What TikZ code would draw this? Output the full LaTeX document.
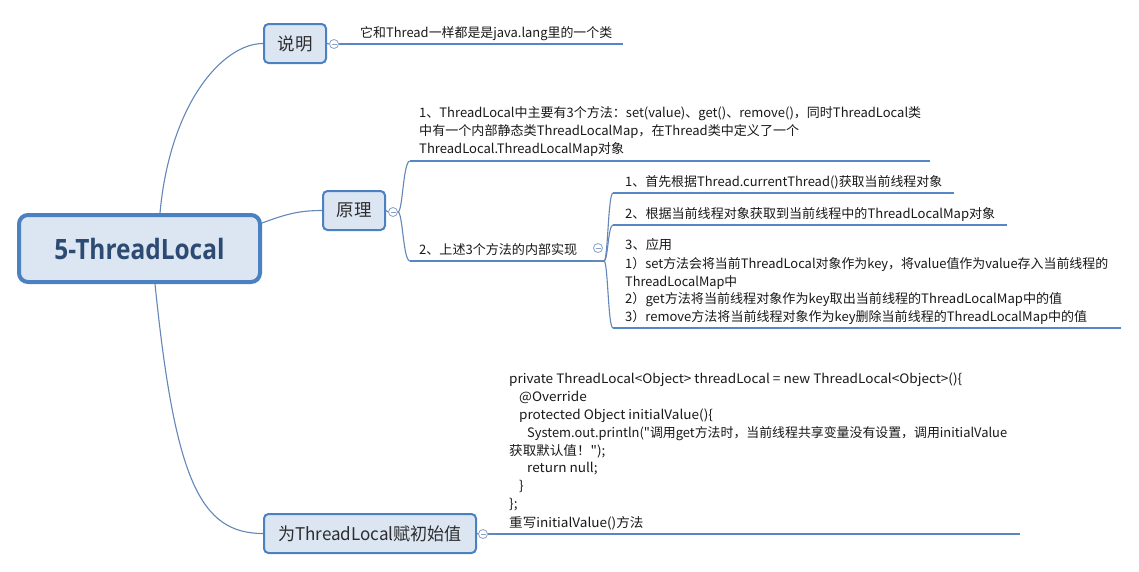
\documentclass[tikz,border=0pt]{standalone}
\usepackage{fontspec}
\setmainfont{Noto Sans CJK SC}
\newfontfamily\rootfont{Open Sans}
\newfontfamily\qfont{Noto Sans CJK SC}
\usepackage{graphicx}
\definecolor{boxc}{RGB}{75,128,193}
\definecolor{boxfill}{RGB}{220,230,242}
\definecolor{roottxt}{RGB}{44,74,114}
\definecolor{boxtxt}{RGB}{45,45,45}
\definecolor{connc}{RGB}{100,135,185}
\definecolor{ulinec}{RGB}{85,135,196}
\definecolor{minusc}{RGB}{135,160,200}
\definecolor{leaftxt}{RGB}{25,25,25}
\newcommand\leaffont{\fontsize{13}{18}\selectfont}
\newcommand\fw[2]{\resizebox{#1pt}{\height}{#2}}
\newcommand\dq{{\qfont\symbol{34}}}
\newlength\codeL
\newcommand\cf[1]{\scalebox{\codesc}[1]{#1}}
\begin{document}
\settowidth\codeL{\leaffont private ThreadLocal<Object> threadLocal = new ThreadLocal<Object>()\{}%
\pgfmathsetmacro\codesc{453/\codeL}%
\begin{tikzpicture}[x=1pt,y=-1pt,
  topic/.style={draw=boxc, fill=boxfill, line width=2pt, rounded corners=4.5pt, minimum height=39pt, inner sep=0pt, text=boxtxt, font=\fontsize{17.5}{20}\selectfont},
  rootbox/.style={draw=boxc, fill=boxfill, line width=4pt, rounded corners=9pt, minimum width=241pt, minimum height=67pt, inner sep=0pt, text=roottxt, font=\rootfont\bfseries\fontsize{28}{30}\selectfont},
  conn/.style={draw=connc, line width=1.1pt},
  uline/.style={draw=ulinec, line width=2.8pt},
  mnode/.style={circle, draw=minusc, fill=white, line width=0.8pt, minimum size=9pt, inner sep=0pt,
    path picture={\draw[minusc, line width=0.8pt] ([xshift=-2.5pt]path picture bounding box.center) -- ([xshift=2.5pt]path picture bounding box.center);}},
  leaf/.style={anchor=base west, inner sep=0pt, text=leaftxt, font=\leaffont}
]
\useasboundingbox (0,0) rectangle (1139,571);
\fill[white] (0,0) rectangle (1139,571);

% main topics
\node[rootbox] (root) at (139.5,248.5) {\fw{170}{5-ThreadLocal}};
\node[topic, minimum width=62pt] (n1) at (295,43.5) {说明};
\node[topic, minimum width=62pt] (n2) at (354,210.5) {原理};
\node[topic, minimum width=212pt] (n3) at (370,533.5) {\fw{184}{为ThreadLocal赋初始值}};

% collapse markers
\node[mnode] (m1) at (334,44) {};
\node[mnode] (m2) at (393,212) {};
\node[mnode] (m3) at (598,248) {};
\node[mnode] (m4) at (483,534) {};

% underline end points
\coordinate (u1s) at (349,44);   \coordinate (u1e) at (623,44);
\coordinate (u2s) at (410,161);  \coordinate (u2e) at (930,161);
\coordinate (u3s) at (410,261);  \coordinate (u3e) at (590,261);
\coordinate (b3)  at (604,261);
\coordinate (u4s) at (613,193);  \coordinate (u4e) at (954,193);
\coordinate (u5s) at (613,225);  \coordinate (u5e) at (1007,225);
\coordinate (u6s) at (613,328);  \coordinate (u6e) at (1121,328);
\coordinate (u7s) at (497,534);  \coordinate (u7e) at (1020,534);

% connectors from root
\draw[conn] ([xshift=20.5pt]root.north) .. controls +(10,-110) and +(-40,0) .. (n1.west);
\draw[conn] ([yshift=-10pt]root.north east) .. controls +(22,-8) and +(-25,0) .. (n2.west);
\draw[conn] ([xshift=15.5pt]root.south) .. controls +(20,196) and +(-63,0) .. (n3.west);

% 说明 branch
\draw[conn] (n1.east) -- (m1.west);
\draw[conn] (m1.east) -- (u1s);
\draw[uline] (u1s) -- (u1e);

% 原理 branch
\draw[conn] (n2.east) -- (m2.west);
\draw[conn] (m2.east) .. controls +(5,0) and +(-7,0) .. (u2s);
\draw[conn] (m2.east) .. controls +(5,0) and +(-7,0) .. (u3s);
\draw[uline] (u2s) -- (u2e);
\draw[uline] (u3s) -- (u3e);
\draw[conn] (u3e) -- (b3);
\draw[conn] (b3) .. controls +(4,0) and +(-5,0) .. (u4s);
\draw[conn] (b3) .. controls +(4,0) and +(-5,0) .. (u5s);
\draw[conn] (b3) .. controls +(4,0) and +(-5,0) .. (u6s);
\draw[uline] (u4s) -- (u4e);
\draw[uline] (u5s) -- (u5e);
\draw[uline] (u6s) -- (u6e);

% 为ThreadLocal赋初始值 branch
\draw[conn] (n3.east) -- (m4.west);
\draw[conn] (m4.east) -- (u7s);
\draw[uline] (u7s) -- (u7e);

% leaf texts
\node[leaf] (t1) at (360,37) {\fw{252}{它和Thread一样都是是java.lang里的一个类}};
\node[leaf] (t2a) at (419,117) {\fw{502}{1、ThreadLocal中主要有3个方法：set(value)、get()、remove()，同时ThreadLocal类}};
\node[leaf] (t2b) at (419,135) {\fw{380}{中有一个内部静态类ThreadLocalMap，在Thread类中定义了一个}};
\node[leaf] (t2c) at (419,153) {\fw{205}{ThreadLocal.ThreadLocalMap对象}};
\node[leaf] (t3) at (419,254) {\fw{158}{2、上述3个方法的内部实现}};
\node[leaf] (s1) at (625,186) {\fw{317}{1、首先根据Thread.currentThread()获取当前线程对象}};
\node[leaf] (s2) at (625,218) {\fw{370}{2、根据当前线程对象获取到当前线程中的ThreadLocalMap对象}};
\node[leaf] (s3a) at (625,249) {\fw{47}{3、应用}};
\node[leaf] (s3b) at (625,268) {\fw{483}{1）set方法会将当前ThreadLocal对象作为key，将value值作为value存入当前线程的}};
\node[leaf] (s3c) at (625,286) {\fw{112}{ThreadLocalMap中}};
\node[leaf] (s3d) at (625,303) {\fw{437}{2）get方法将当前线程对象作为key取出当前线程的ThreadLocalMap中的值}};
\node[leaf] (s3e) at (625,321) {\fw{462}{3）remove方法将当前线程对象作为key删除当前线程的ThreadLocalMap中的值}};

% code
\node[leaf] (c1) at (509,383) {\fw{453}{private ThreadLocal<Object> threadLocal = new ThreadLocal<Object>()\{}};
\node[leaf] (c2) at (519,401) {\cf{@Override}};
\node[leaf] (c3) at (519,419) {\cf{protected Object initialValue()\{}};
\node[leaf] (c4) at (527,437) {\fw{480}{System.out.println(\dq 调用get方法时，当前线程共享变量没有设置，调用initialValue}};
\node[leaf] (c5) at (509,455) {\cf{获取默认值！\dq);}};
\node[leaf] (c6) at (527,472) {\cf{return null;}};
\node[leaf] (c7) at (519,490) {\cf{\}}};
\node[leaf] (c8) at (509,508) {\cf{\};}};
\node[leaf] (c9) at (509,527) {\cf{重写initialValue()方法}};
\end{tikzpicture}
\end{document}
